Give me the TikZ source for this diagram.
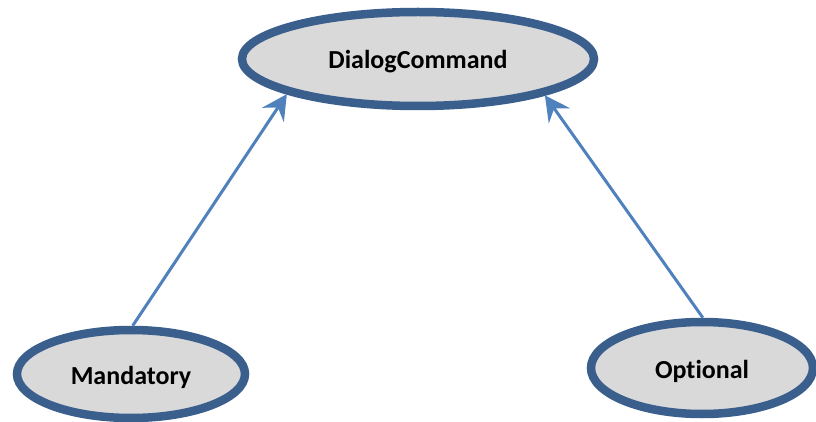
\documentclass[tikz,border=0pt]{standalone}
\usepackage{fontspec}
\setmainfont{Carlito}[Ligatures={NoCommon}]
\usetikzlibrary{shapes.geometric,arrows.meta}
\definecolor{ellfill}{HTML}{D9D9D9}
\definecolor{ellline}{HTML}{3A5F8D}
\definecolor{arrline}{HTML}{4F81BD}
\newcommand{\lowtext}[1]{\raisebox{-3pt}[\height][\depth]{#1}}
\begin{document}
\begin{tikzpicture}[x=1pt,y=-1pt,
  oval/.style={ellipse,draw=ellline,fill=ellfill,line width=8.5pt,inner sep=0pt,
    font=\fontsize{26}{30}\selectfont\bfseries},
  link/.style={draw=arrline,line width=3pt,-{Stealth[length=25pt,width=26pt,inset=9pt]}}]
\useasboundingbox (0,0) rectangle (816,422);
\node[oval,minimum width=352pt,minimum height=94pt] (dc) at (418,59) {\lowtext{DialogCommand}};
\node[oval,minimum width=228pt,minimum height=88pt] (m) at (131,374) {\lowtext{Mandatory}};
\node[oval,minimum width=222pt,minimum height=92pt] (o) at (702,368) {\lowtext{Optional}};
\draw[link] (m.88) -- (dc.195);
\draw[link] (o.89) -- (dc.344);
\end{tikzpicture}
\end{document}
